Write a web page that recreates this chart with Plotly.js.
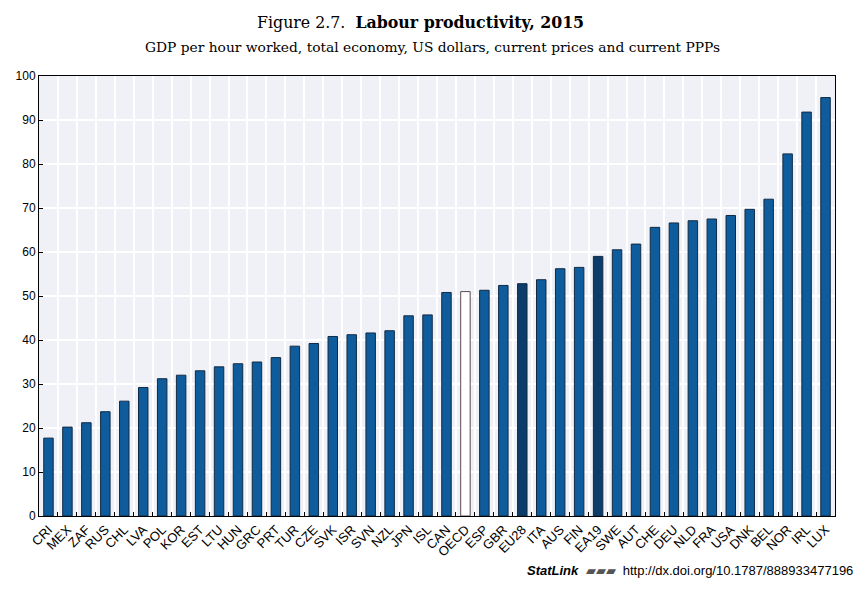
<!DOCTYPE html>
<html><head><meta charset="utf-8">
<script src="https://cdn.plot.ly/plotly-3.0.1.min.js"></script>
<style>body{margin:0;background:#fff}#chart{width:867px;height:597px}</style>
</head><body><div id="chart"></div>
<script>
const countries = ["CRI","MEX","ZAF","RUS","CHL","LVA","POL","KOR","EST","LTU","HUN","GRC","PRT","TUR","CZE","SVK","ISR","SVN","NZL","JPN","ISL","CAN","OECD","ESP","GBR","EU28","ITA","AUS","FIN","EA19","SWE","AUT","CHE","DEU","NLD","FRA","USA","DNK","BEL","NOR","IRL","LUX"];
const productivity = [17.7,20.2,21.2,23.7,26.1,29.2,31.2,32.0,33.0,33.9,34.6,35.0,36.0,38.6,39.2,40.8,41.2,41.6,42.1,45.5,45.7,50.8,51.0,51.3,52.4,52.8,53.7,56.2,56.5,59.0,60.5,61.8,65.6,66.6,67.1,67.5,68.3,69.7,72.0,82.3,91.8,95.1];
const aggregatesDark = ["EU28","EA19"];
const aggregateWhite = ["OECD"];
const yTicks = [0,10,20,30,40,50,60,70,80,90,100];

const colors = countries.map(c => aggregateWhite.includes(c) ? "#ffffff" : (aggregatesDark.includes(c) ? "#0c3c6a" : "#0f5c9c"));
const lineColors = countries.map(c => aggregateWhite.includes(c) ? "#5a4a50" : "#102a44");

const data = [{
  type: "bar", x: countries, y: productivity,
  marker: {color: colors, line: {color: lineColors, width: 1}},
  width: 0.5, hoverinfo: "x+y"
}];

const layout = {
  width: 867, height: 597,
  margin: {l: 39, r: 32, t: 76, b: 81},
  paper_bgcolor: "#ffffff", plot_bgcolor: "#f0f1f7",
  showlegend: false,
  bargap: 0.5,
  font: {family: "Liberation Sans, Arial, sans-serif", color: "#000", size: 12},
  xaxis: {
    type: "category", tickangle: -45, tickson: "boundaries",
    ticks: "inside", ticklen: 4, tickcolor: "#000",
    showgrid: true, gridcolor: "#ffffff", gridwidth: 2,
    showline: true, linecolor: "#000", linewidth: 1, mirror: true,
    tickfont: {size: 13, family: "Liberation Sans, Arial, sans-serif"},
    range: [-0.5, countries.length - 0.5], automargin: false
  },
  yaxis: {
    range: [0, 100], tickvals: yTicks, ticktext: yTicks.map(String),
    ticks: "inside", ticklen: 4, tickcolor: "#000",
    showgrid: true, gridcolor: "#ffffff", gridwidth: 2,
    showline: true, linecolor: "#000", linewidth: 1, mirror: true,
    zeroline: false, tickfont: {size: 12}, automargin: false
  },
  annotations: [
    {xref: "paper", yref: "paper", x: 0.5, y: 1, yshift: 54, xshift: -17, xanchor: "center", yanchor: "middle", showarrow: false,
     text: "Figure 2.7.  <b>Labour productivity, 2015</b>", font: {family: "DejaVu Serif, serif", size: 15.8, color: "#000"}},
    {xref: "paper", yref: "paper", x: 0.5, y: 1, yshift: 29, xshift: -5, xanchor: "center", yanchor: "middle", showarrow: false,
     text: "GDP per hour worked, total economy, US dollars, current prices and current PPPs", font: {family: "DejaVu Serif, serif", size: 13.8, color: "#000"}},
    {xref: "paper", yref: "paper", x: 1, y: 0, yshift: -54, xshift: 20, xanchor: "right", yanchor: "middle", showarrow: false,
     text: "<b><i>StatLink</i></b>  <span style='color:#555'>▰▰▰</span>  http://dx.doi.org/10.1787/888933477196", font: {family: "Liberation Sans, Arial, sans-serif", size: 13, color: "#000"}}
  ]
};

Plotly.newPlot("chart", data, layout, {displayModeBar: false, staticPlot: true});
</script></body></html>
